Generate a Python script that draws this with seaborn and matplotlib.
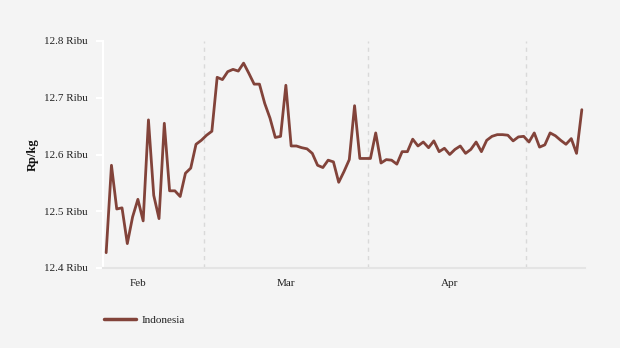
import matplotlib
matplotlib.use("Agg")
import matplotlib.pyplot as plt
import seaborn as sns
import pandas as pd
import numpy as np

start_date = "2023-02-10"
series_name = "Indonesia"
values = [
    12.427, 12.581, 12.504, 12.506, 12.443, 12.490, 12.521, 12.483, 12.661, 12.528,
    12.487, 12.655, 12.536, 12.536, 12.526, 12.567, 12.576, 12.618, 12.625, 12.634,
    12.641, 12.736, 12.732, 12.746, 12.750, 12.747, 12.761, 12.743, 12.724, 12.724,
    12.690, 12.664, 12.630, 12.632, 12.722, 12.615, 12.615, 12.612, 12.610, 12.602,
    12.581, 12.577, 12.590, 12.587, 12.551, 12.570, 12.591, 12.686, 12.593, 12.593,
    12.593, 12.638, 12.585, 12.591, 12.590, 12.583, 12.605, 12.605, 12.627, 12.615,
    12.622, 12.612, 12.624, 12.605, 12.611, 12.600, 12.609, 12.615, 12.602, 12.609,
    12.622, 12.605, 12.625, 12.632, 12.635, 12.635, 12.634, 12.624, 12.631, 12.632,
    12.622, 12.638, 12.613, 12.617, 12.638, 12.633, 12.625, 12.618, 12.628, 12.602,
    12.679,
]
month_labels = ["Feb", "Mar", "Apr"]
month_label_dates = ["2023-02-16", "2023-03-16", "2023-04-16"]
month_starts = ["2023-03-01", "2023-04-01", "2023-05-01"]
y_ticks = [12.4, 12.5, 12.6, 12.7, 12.8]
y_ticklabels = ["12.4 Ribu", "12.5 Ribu", "12.6 Ribu", "12.7 Ribu", "12.8 Ribu"]
y_label = "Rp/kg"

dates = pd.date_range(start_date, periods=len(values), freq="D")
df = pd.DataFrame({"date": dates, "value": values, "country": series_name})
df["day"] = (df["date"] - dates[0]).dt.days

def day_of(d):
    return (pd.Timestamp(d) - dates[0]).days

BG = "#f4f4f4"
LINE = "#82433a"
sns.set_theme(style="white")
plt.rcParams["font.family"] = ["Liberation Serif", "DejaVu Serif"]

fig = plt.figure(figsize=(6.2, 3.48), dpi=100, facecolor=BG)
ax = fig.add_axes([103/620, 1-268/348, (585-103)/620, (268-41)/348])
ax.set_facecolor(BG)

sns.lineplot(data=df, x="day", y="value", hue="country", palette=[LINE],
             linewidth=2.0, ax=ax, legend=False)

ax.set_xlim(-0.6, 90.6)
ax.set_ylim(12.4, 12.8)

# month gridlines at boundaries
bounds = [day_of(m) - 0.5 for m in month_starts]
for b in bounds:
    ax.axvline(b, color="#d9d9d9", lw=1.0, ls=(0, (3, 3)), zorder=0)

ax.set_xticks(bounds, minor=True)
ax.set_xticks([day_of(d) for d in month_label_dates])
ax.set_xticklabels(month_labels, fontsize=8, color="#222222")
ax.tick_params(axis="x", which="major", length=0, pad=8)
ax.tick_params(axis="x", which="minor", length=5, color="#e4e4e4", width=1.5)

ax.set_yticks(y_ticks)
ax.set_yticklabels(y_ticklabels, fontsize=8, color="#222222")
ax.tick_params(axis="y", length=5, color="white", width=1.5, pad=6, left=True)

for s in ["top", "right"]:
    ax.spines[s].set_visible(False)
ax.spines["left"].set_color("white")
ax.spines["left"].set_linewidth(1.5)
ax.spines["bottom"].set_color("#e4e4e4")
ax.spines["bottom"].set_linewidth(1.5)

ax.set_xlabel("")
ax.set_ylabel(y_label, fontsize=9, fontweight="bold", color="#111111", labelpad=10)
ax.yaxis.set_label_coords(-0.133, 0.5)

handle = plt.Line2D([], [], color=LINE, lw=2.5)
fig.legend([handle], [series_name], loc="center left",
           bbox_to_anchor=(104/620, 1-320/348), frameon=False, borderpad=0,
           borderaxespad=0, handlelength=2.9, handletextpad=0.45,
           prop={"size": 8, "family": ["Liberation Serif"]}, labelcolor="#222222")

fig.savefig("out.png", dpi=100, facecolor=BG)
